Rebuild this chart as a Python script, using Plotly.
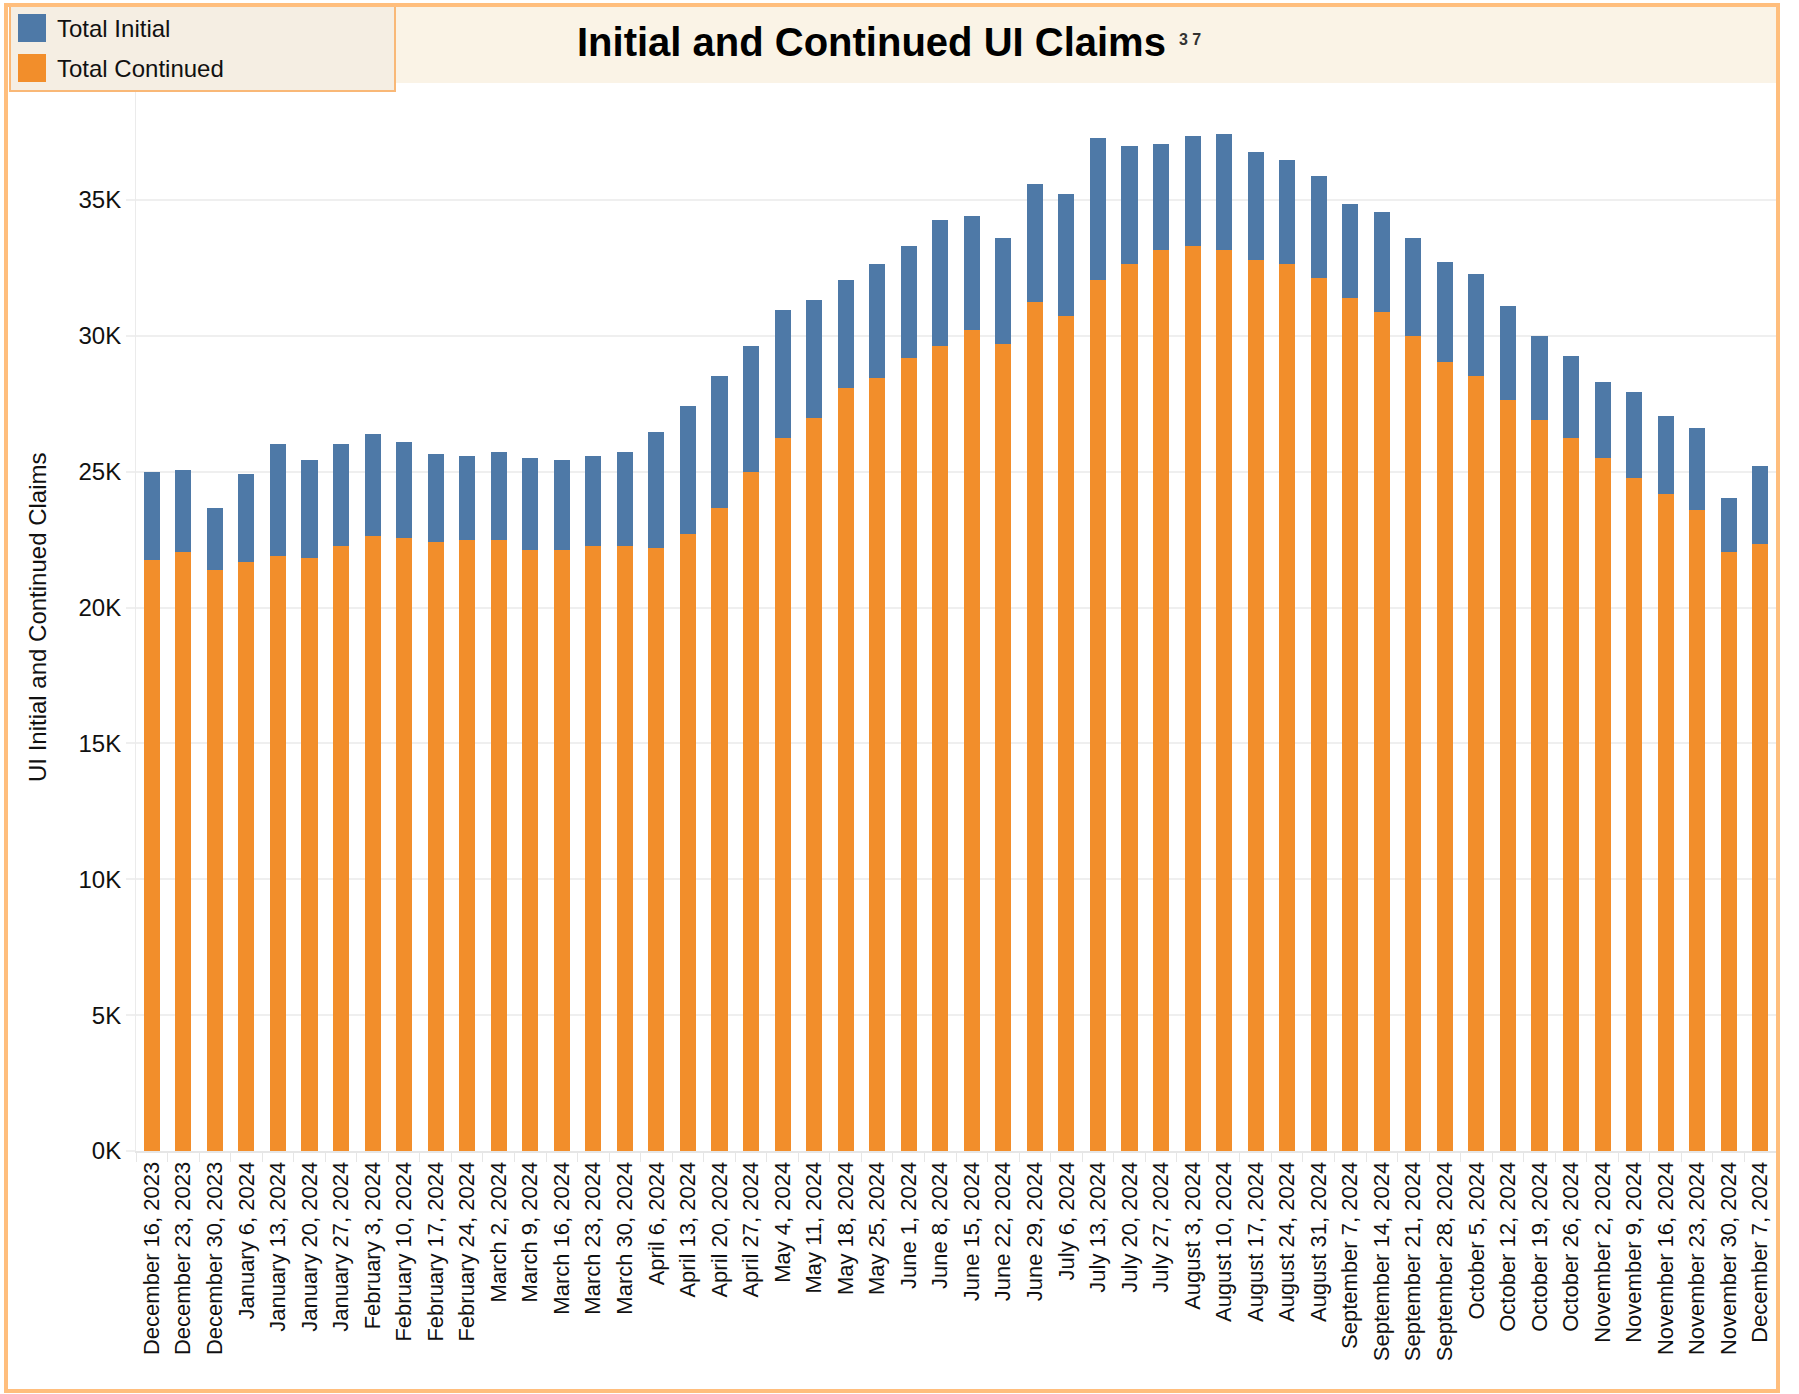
import plotly.graph_objects as go

# Week-ending dates shown on the category axis
weeks = [
    "December 16, 2023", "December 23, 2023", "December 30, 2023",
    "January 6, 2024", "January 13, 2024", "January 20, 2024", "January 27, 2024",
    "February 3, 2024", "February 10, 2024", "February 17, 2024", "February 24, 2024",
    "March 2, 2024", "March 9, 2024", "March 16, 2024", "March 23, 2024", "March 30, 2024",
    "April 6, 2024", "April 13, 2024", "April 20, 2024", "April 27, 2024",
    "May 4, 2024", "May 11, 2024", "May 18, 2024", "May 25, 2024",
    "June 1, 2024", "June 8, 2024", "June 15, 2024", "June 22, 2024", "June 29, 2024",
    "July 6, 2024", "July 13, 2024", "July 20, 2024", "July 27, 2024",
    "August 3, 2024", "August 10, 2024", "August 17, 2024", "August 24, 2024", "August 31, 2024",
    "September 7, 2024", "September 14, 2024", "September 21, 2024", "September 28, 2024",
    "October 5, 2024", "October 12, 2024", "October 19, 2024", "October 26, 2024",
    "November 2, 2024", "November 9, 2024", "November 16, 2024", "November 23, 2024",
    "November 30, 2024", "December 7, 2024",
]

# Continued claims (bottom segment)
total_continued = [
    21750, 22040, 21380, 21670, 21900, 21820, 22260, 22630, 22560, 22410,
    22480, 22480, 22120, 22120, 22260, 22260, 22190, 22710, 23660, 24990,
    26240, 26980, 28080, 28450, 29180, 29630, 30210, 29700, 31250, 30730,
    32060, 32640, 33160, 33310, 33160, 32790, 32640, 32130, 31390, 30880,
    29990, 29040, 28520, 27640, 26900, 26240, 25500, 24770, 24180, 23590,
    22040, 22340,
]

# Initial claims (stacked on top)
total_initial = [
    3240, 3020, 2280, 3240, 4120, 3610, 3760, 3760, 3530, 3240,
    3100, 3240, 3380, 3310, 3320, 3460, 4270, 4710, 4860, 4640,
    4710, 4340, 3980, 4190, 4130, 4630, 4200, 3900, 4340, 4490,
    5220, 4350, 3900, 4050, 4270, 3980, 3830, 3750, 3460, 3680,
    3610, 3680, 3760, 3460, 3090, 3020, 2800, 3160, 2870, 3020,
    1990, 2870,
]

y_tick_vals = [0, 5000, 10000, 15000, 20000, 25000, 30000, 35000]
y_tick_text = ["0K", "5K", "10K", "15K", "20K", "25K", "30K", "35K"]

BLUE = "#4E79A7"
ORANGE = "#F28E2B"
FRAME = "#FFBE7D"
FONT = "Liberation Sans, Arial, sans-serif"

W, H = 1799, 1394
ML, MR, MT, MB = 136, 23, 84, 243
PW, PH = W - ML - MR, H - MT - MB


def px_x(px):
    return (px - ML) / PW


def px_y(py):
    return (H - MB - py) / PH


fig = go.Figure()
fig.add_trace(go.Bar(x=weeks, y=total_continued, name="Total Continued",
                     marker=dict(color=ORANGE, line=dict(width=0))))
fig.add_trace(go.Bar(x=weeks, y=total_initial, name="Total Initial",
                     marker=dict(color=BLUE, line=dict(width=0))))

shapes = [
    # title band
    dict(type="rect", xref="paper", yref="paper", layer="below",
         x0=px_x(395), x1=px_x(1777), y0=px_y(83), y1=px_y(6),
         fillcolor="#FAF3E6", line=dict(width=0)),
    # legend box
    dict(type="rect", xref="paper", yref="paper",
         x0=px_x(10), x1=px_x(395), y0=px_y(91), y1=px_y(6),
         fillcolor="#F5EEE3", line=dict(color="#F9B877", width=2)),
    # legend swatches
    dict(type="rect", xref="paper", yref="paper",
         x0=px_x(18), x1=px_x(46), y0=px_y(42), y1=px_y(14),
         fillcolor=BLUE, line=dict(width=0)),
    dict(type="rect", xref="paper", yref="paper",
         x0=px_x(18), x1=px_x(46), y0=px_y(82), y1=px_y(54),
         fillcolor=ORANGE, line=dict(width=0)),
    # outer frame
    dict(type="rect", xref="paper", yref="paper",
         x0=px_x(6), x1=px_x(1778), y0=px_y(1391), y1=px_y(5),
         fillcolor="rgba(0,0,0,0)", line=dict(color=FRAME, width=4)),
]

annotations = [
    dict(text="<b>Initial and Continued UI Claims</b>", xref="paper", yref="paper",
         x=px_x(871), y=px_y(42), xanchor="center", yanchor="middle",
         showarrow=False, font=dict(family=FONT, size=40, color="#000000")),
    dict(text="<b>3 7</b>", xref="paper", yref="paper",
         x=px_x(1177), y=px_y(40), xanchor="left", yanchor="middle",
         showarrow=False, font=dict(family=FONT, size=16, color="#333333")),
    dict(text="Total Initial", xref="paper", yref="paper",
         x=px_x(55), y=px_y(28), xanchor="left", yanchor="middle",
         showarrow=False, font=dict(family=FONT, size=24, color="#111111")),
    dict(text="Total Continued", xref="paper", yref="paper",
         x=px_x(55), y=px_y(68), xanchor="left", yanchor="middle",
         showarrow=False, font=dict(family=FONT, size=24, color="#111111")),
    dict(text="UI Initial and Continued Claims", xref="paper", yref="paper",
         x=px_x(37), y=px_y(617), xanchor="center", yanchor="middle",
         textangle=-90, showarrow=False,
         font=dict(family=FONT, size=24, color="#111111")),
]

fig.update_layout(
    width=W, height=H,
    margin=dict(l=ML, r=MR, t=MT, b=MB, pad=0),
    barmode="stack", bargap=0.49,
    paper_bgcolor="white", plot_bgcolor="white",
    showlegend=False,
    font=dict(family=FONT, color="#111111"),
    shapes=shapes, annotations=annotations,
    xaxis=dict(
        type="category", tickangle=-90, tickson="boundaries",
        ticks="outside", ticklen=9, tickcolor="#E6E6E6", tickwidth=1,
        showline=True, linecolor="#E6E6E6", linewidth=2,
        showgrid=False, tickfont=dict(family=FONT, size=22, color="#111111"),
        range=[-0.5, len(weeks) - 0.5],
    ),
    yaxis=dict(
        range=[0, 39270], tickvals=y_tick_vals, ticktext=y_tick_text,
        ticks="outside", ticklen=9, tickcolor="#EFEFEF", tickwidth=2,
        showgrid=True, gridcolor="#EFEFEF", gridwidth=2,
        zeroline=False, showline=True, linecolor="#EBEBEB", linewidth=1,
        tickfont=dict(family=FONT, size=24, color="#111111"),
    ),
)

fig.write_html("out.html")
